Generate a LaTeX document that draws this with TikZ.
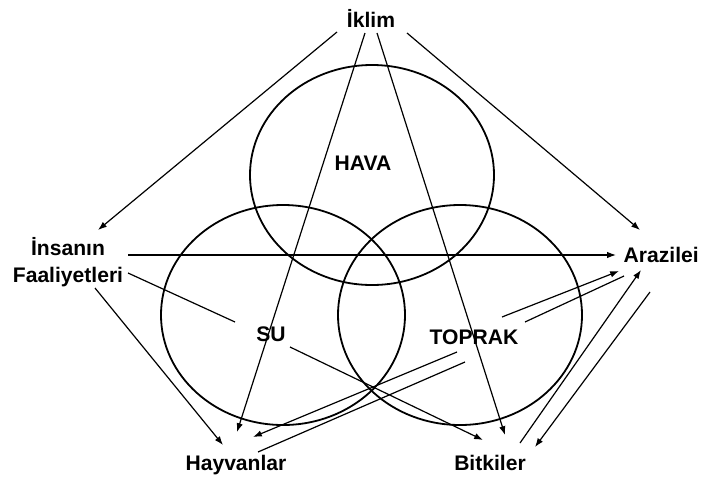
\documentclass[tikz,border=0pt]{standalone}
\usepackage{fontspec}
\setmainfont{Liberation Sans}
\usetikzlibrary{arrows.meta}

\begin{document}
\begin{tikzpicture}[
x=0.25mm, y=-0.25mm,
lbl/.style={font=\fontsize{15}{19}\selectfont\bfseries, inner sep=0pt},
ring/.style={draw, line width=0.45mm},
link/.style={line width=0.3mm},
arr/.style={link, -{Latex[length=2.2mm,width=1.6mm]}}
]
\useasboundingbox[fill=white] (0,0) rectangle (701,481);

% circles
\draw[ring] (372,175) ellipse [x radius=30.5mm, y radius=27.5mm];
\draw[ring] (283,315) ellipse [x radius=30.5mm, y radius=27.5mm];
\draw[ring] (460,315) ellipse [x radius=30.5mm, y radius=27.5mm];

% labels
\node[lbl] (iklim) at (371,18) {İklim};
\node[lbl, align=center] (insan) at (68,262) {İnsanın\\Faaliyetleri};
\node[lbl, anchor=east] (arazi) at (699,255) {Arazilei};
\node[lbl] (hayvan) at (236,465) {Hayvanlar};
\node[lbl] (bitki) at (490,463) {Bitkiler};
\node[lbl] (hava) at (363,163) {HAVA};
\node[lbl] (su) at (271,334) {SU};
\node[lbl] (toprak) at (474,337) {TOPRAK};

% line ends
\coordinate (k1) at (337,32);
\coordinate (k2) at (365,33);
\coordinate (k3) at (377,33);
\coordinate (k4) at (407,33);
\coordinate (i1) at (98,230);
\coordinate (i2) at (128,255);
\coordinate (i3) at (95,288);
\coordinate (i4) at (128,273);
\coordinate (a1) at (640,230);
\coordinate (a2) at (616,255);
\coordinate (a3) at (619,271);
\coordinate (a4) at (624,276);
\coordinate (a5) at (641,270);
\coordinate (a6) at (650,292);
\coordinate (h1) at (237,432);
\coordinate (h2) at (223,445);
\coordinate (h3) at (253,437);
\coordinate (h4) at (258,452);
\coordinate (b1) at (505,435);
\coordinate (b2) at (483,440);
\coordinate (b3) at (520,443);
\coordinate (b4) at (535,447);
\coordinate (s1) at (235,322);
\coordinate (s2) at (290,347);
\coordinate (t1) at (457,352);
\coordinate (t2) at (465,362);
\coordinate (t3) at (502,317);
\coordinate (t4) at (525,322);

% edges
\draw[arr] (k1) -- (i1);
\draw[arr] (k2) -- (h1);
\draw[arr] (k3) -- (b1);
\draw[arr] (k4) -- (a1);

\draw[arr] (i2) -- (a2);
\draw[arr] (i3) -- (h2);
\draw[link] (i4) -- (s1);

\draw[arr] (s2) -- (b2);
\draw[arr] (t1) -- (h3);
\draw[link] (t2) -- (h4);
\draw[arr] (t3) -- (a3);
\draw[link] (t4) -- (a4);

\draw[arr] (b3) -- (a5);
\draw[arr] (a6) -- (b4);

\end{tikzpicture}
\end{document}
